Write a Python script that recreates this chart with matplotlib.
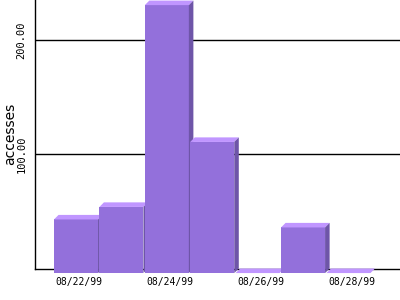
import matplotlib
matplotlib.use("Agg")
import matplotlib.pyplot as plt
from matplotlib.patches import Polygon

# data
dates = ["08/22/99", "08/23/99", "08/24/99", "08/25/99", "08/26/99", "08/27/99", "08/28/99"]
accesses = [47, 58, 235, 115, 0, 40, 0]
y_ticks = [100, 200]

front_col = "#9370db"
top_col = "#c096ff"
side_col = "#6e55a8"

fig = plt.figure(figsize=(4, 3), dpi=100)
ax = fig.add_axes([35 / 400, 31.5 / 300, 365 / 400, 268.5 / 300])

ax.set_xlim(-0.918, 7.12)
ax.set_ylim(0, 235.5)

# 3d offset of the back plane (in data units)
dx = 0.1
dy = 4.0
w = 0.97

for i, v in enumerate(accesses):
    z = 3 + i * 0.1
    left = i - 0.5
    right = left + w
    ax.bar(left, v, width=w, bottom=-dy, align="edge", color=front_col,
           linewidth=0, zorder=z, clip_on=False)
    top = Polygon([(left, v - dy), (right, v - dy), (right + dx, v), (left + dx, v)],
                  closed=True, facecolor=top_col, edgecolor="none", zorder=z, clip_on=False)
    side = Polygon([(right, -dy), (right + dx, 0), (right + dx, v), (right, v - dy)],
                   closed=True, facecolor=side_col, edgecolor="none", zorder=z, clip_on=False)
    ax.add_patch(top)
    ax.add_patch(side)

for t in y_ticks:
    ax.axhline(t, color="black", linewidth=1.0, zorder=1)

ax.spines["top"].set_visible(False)
ax.spines["right"].set_visible(False)
ax.spines["left"].set_linewidth(1.0)
ax.spines["bottom"].set_linewidth(1.0)
ax.spines["left"].set_zorder(2)
ax.spines["bottom"].set_zorder(2)

ax.set_yticks(y_ticks)
ax.set_yticklabels([f"{t:.2f}" for t in y_ticks], rotation=90, va="center",
                   fontsize=7.5, family="DejaVu Sans Mono")
ax.set_xticks([i + 0.05 for i in range(0, len(dates), 2)])
ax.set_xticklabels(dates[::2], fontsize=7, family="DejaVu Sans Mono")
ax.tick_params(axis="both", length=0)
ax.tick_params(axis="x", pad=6)
ax.tick_params(axis="y", pad=6)

ax.set_ylabel("accesses", fontsize=10)
ax.yaxis.set_label_coords(-0.05, 0.5)

fig.savefig("out.png", dpi=100)
